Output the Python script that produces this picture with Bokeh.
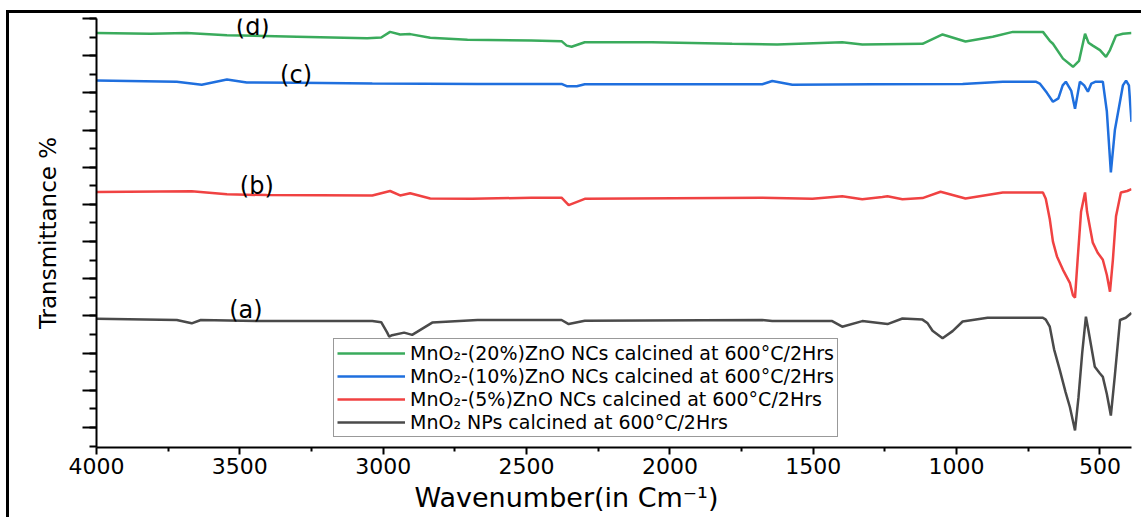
from bokeh.plotting import figure
from bokeh.models import (Range1d, SingleIntervalTicker, FixedTicker, Legend, LegendItem, Title,
                          CustomJSTickFormatter)
from bokeh.core.properties import value
from bokeh.embed import file_html
from bokeh.resources import INLINE

# ---- data ----
x_ticks = [4000, 3500, 3000, 2500, 2000, 1500, 1000, 500]
x_minor = [3750, 3250, 2750, 2250, 1750, 1250, 750]

series_names = [
    "MnO₂-(20%)ZnO NCs calcined at 600°C/2Hrs",
    "MnO₂-(10%)ZnO NCs calcined at 600°C/2Hrs",
    "MnO₂-(5%)ZnO NCs calcined at 600°C/2Hrs",
    "MnO₂ NPs calcined at 600°C/2Hrs",
]
series_colors = ["#3aab5c", "#1f6fde", "#f04242", "#4a4a4a"]

wn_a = [4000,3720,3668,3636,3406,3038,3007,2986,2979,2969,2927,2899,2829,2671,2483,2378,2353,2297,1678,1643,
        1434,1399,1329,1241,1189,1119,1101,1084,1049,1014,979,892,699,689,675,660,640,620,605,587,
        575,562,549,540,518,500,490,476,462,448,430,410,390]
t_a = [29.2,28.9,28.0,28.9,28.6,28.6,28.3,25.5,24.4,24.8,25.5,24.9,28.2,28.9,28.9,28.9,27.8,28.7,28.9,28.6,
       28.6,27.1,28.6,27.8,29.3,29.0,28.0,26.0,24.0,25.9,28.5,29.5,29.5,29.0,27.1,21.0,15.4,9.5,5.5,-0.8,
       8.0,20.0,29.8,26.0,16.3,14.5,13.6,9.0,3.2,14.0,28.9,29.5,30.8]

wn_b = [4000,3668,3545,3406,3038,2976,2941,2906,2836,2689,2483,2378,2353,2297,1678,1503,1399,1329,1259,1241,
        1189,1119,1056,969,839,699,689,675,664,650,629,605,594,587,578,566,552,545,525,508,
        490,476,465,455,444,427,405,390]
t_b = [63.3,63.5,62.7,62.5,62.4,63.6,62.4,63.0,61.6,61.5,61.8,61.8,59.8,61.5,61.8,61.5,62.2,61.4,62.0,62.2,
       61.4,61.7,63.4,61.6,63.2,63.2,61.5,56.0,50.0,46.0,42.4,38.9,35.5,34.9,45.0,58.0,63.2,58.0,49.7,47.0,
       45.1,41.0,36.5,45.0,56.8,63.2,63.6,64.1]

wn_c = [4000,3720,3633,3545,3476,3301,3038,2671,2378,2360,2325,2297,1678,1643,1573,1294,979,839,724,710,
        685,664,645,630,619,600,587,577,570,555,542,530,515,490,476,462,448,420,409,399,390]
t_c = [93.3,93.0,92.2,93.6,92.8,92.7,92.5,92.4,92.4,91.8,91.8,92.3,92.3,93.2,92.2,92.3,92.4,93.0,93.0,92.5,
       90.0,87.6,88.5,92.0,93.0,90.5,85.7,90.0,93.0,92.0,90.3,92.5,93.0,93.0,85.0,68.6,80.0,92.0,93.3,92.0,82.2]

wn_d = [4000,3811,3685,3545,3301,3056,3007,2976,2941,2906,2836,2706,2483,2378,2360,2343,2297,2063,1783,1626,
        1399,1329,1119,1049,969,874,804,699,675,664,629,594,573,552,540,525,500,479,465,444,420,390]
t_d = [106.1,105.9,106.1,105.5,105.1,104.7,104.9,106.4,105.7,105.8,104.8,104.3,104.1,103.9,102.7,102.4,103.6,103.6,103.2,103.0,
       103.6,103.0,103.2,105.7,103.8,105.1,106.4,106.4,104.0,103.2,99.2,97.0,98.6,105.9,103.5,102.7,101.5,99.7,101.5,105.4,105.9,106.1]

label_text = ["(a)", "(b)", "(c)", "(d)"]
label_wn = [3479, 3441, 3304, 3455]
label_t = [31.6, 64.9, 94.9, 107.6]

FONT = "DejaVu Sans"

p = figure(width=1132, height=504, output_backend="svg", toolbar_location=None,
           x_range=Range1d(4000, 390), y_range=Range1d(-5.4, 110.0))
p.frame_width = 1035
p.frame_height = 429
p.min_border_left = 87
p.min_border_right = 10
p.min_border_top = 5
p.min_border_bottom = 70
p.styles = {"border-left": "3px solid black", "border-top": "3px solid black",
            "margin-left": "6px", "margin-top": "10px"}
p.outline_line_color = None
p.background_fill_color = "white"
p.border_fill_color = "white"
p.grid.visible = False

# x axis
xa = p.xaxis[0]
xa.ticker = FixedTicker(ticks=x_ticks, minor_ticks=x_minor)
xa.axis_line_width = 2
xa.major_tick_line_width = 2
xa.minor_tick_line_width = 2
xa.major_tick_out = 7
xa.major_tick_in = 0
xa.minor_tick_out = 4
xa.minor_tick_in = 0
xa.major_label_text_font = FONT
xa.major_label_text_font_size = "22px"
xa.major_label_text_color = "black"
xa.major_label_standoff = 3

# y axis (ticks only, no numbers)
ya = p.yaxis[0]
ya.ticker = SingleIntervalTicker(interval=10, num_minor_ticks=2)
ya.formatter = CustomJSTickFormatter(code="return ''")
ya.axis_line_width = 2
ya.major_tick_line_width = 2
ya.minor_tick_line_width = 2
ya.major_tick_out = 14
ya.major_tick_in = 0
ya.minor_tick_out = 7
ya.minor_tick_in = 0
ya.major_label_standoff = 0
ya.axis_label = "Transmittance %"
ya.axis_label_text_font = FONT
ya.axis_label_text_font_size = "23px"
ya.axis_label_text_font_style = "normal"
ya.axis_label_text_color = "black"
ya.axis_label_standoff = 22

xs = [wn_d, wn_c, wn_b, wn_a]
ys = [t_d, t_c, t_b, t_a]
items = []
for name, col, x, y in zip(series_names, series_colors, xs, ys):
    r = p.line(x, y, line_color=col, line_width=2.5)
    items.append(LegendItem(label=name, renderers=[r]))

p.text(x=label_wn, y=label_t, text=label_text, text_align="center", text_baseline="middle",
       text_font=value(FONT), text_font_size="24px", text_color="black")

legend = Legend(items=items, location=(237, 10))
legend.label_text_font = FONT
legend.label_text_font_size = "19px"
legend.label_text_color = "black"
legend.glyph_width = 68
legend.glyph_height = 20
legend.label_height = 20
legend.spacing = 1
legend.padding = 3
legend.margin = 0
legend.label_standoff = 5
legend.border_line_color = "#333333"
legend.border_line_width = 1.5
legend.background_fill_alpha = 1
p.add_layout(legend, "center")

xt = Title(text="Wavenumber(in Cm⁻¹)", align="left", offset=318, standoff=7,
           text_font=FONT, text_font_size="27px", text_font_style="normal", text_color="black")
p.add_layout(xt, "below")

open("out.html", "w").write(file_html(p, INLINE))
